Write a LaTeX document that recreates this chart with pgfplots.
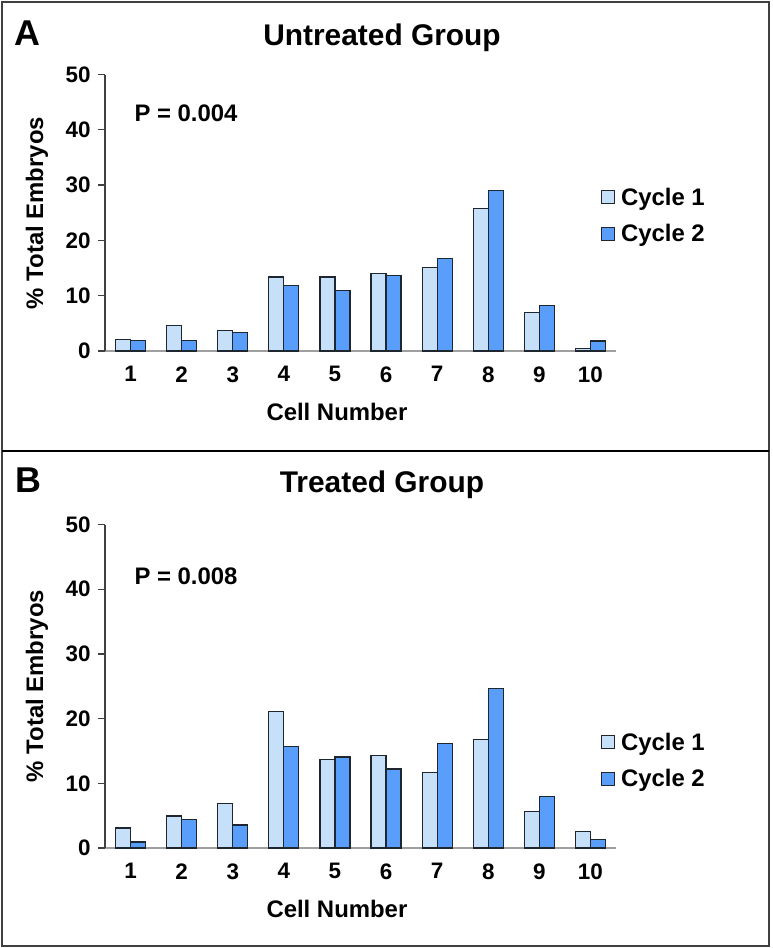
\documentclass[border=0pt]{standalone}
\usepackage{pgfplots}
\pgfplotsset{compat=1.18}
\usepackage{fontspec}
\setmainfont{Liberation Sans}
\definecolor{cyc1}{RGB}{197,224,248}
\definecolor{cyc2}{RGB}{88,158,250}
\definecolor{edge}{RGB}{30,38,48}
\pgfplotsset{
 panel/.style={
  scale only axis, width=511bp, anchor=south west,
  xmin=0.5, xmax=10.5, ymin=0, ymax=50,
  xtick={1,...,10}, ytick={0,10,...,50},
  axis x line=bottom, axis y line=left,
  x axis line style={-, draw=gray!75, line width=1.3bp},
  y axis line style={-, draw=black!75, line width=1.3bp},
  xtick style={draw=none},
  ytick style={draw=black!75, line width=1.3bp},
  tick align=outside, major tick length=7bp,
  ybar=0pt, bar width=15bp,
  ticklabel style={font=\fontsize{22.5}{26}\selectfont\bfseries},
  /pgf/number format/assume math mode=true,
  xticklabel style={yshift=-5bp},
  yticklabel style={xshift=-4bp},
  legend style={draw=none, fill=none, anchor=west,
    font=\fontsize{24}{28}\selectfont\bfseries, row sep=14bp,
    inner sep=0pt, nodes={inner sep=2bp}},
  legend cell align=left,
  legend image code/.code={\draw[##1] (0bp,-6.5bp) rectangle (13bp,6.5bp);
    \path (17bp,0bp);},
 }
}
\begin{document}
\begin{tikzpicture}
\useasboundingbox (0,0) rectangle (773bp,-948bp);
\draw[line width=2bp, draw=black!75] (1.7bp,-1.7bp) rectangle (769.3bp,-946bp);
\draw[line width=2bp, draw=black] (1.7bp,-451bp) -- (769.3bp,-451bp);
% Panel A
\node[anchor=base west, font=\fontsize{36}{40}\selectfont\bfseries] at (11bp,-45bp) {A};
\node[anchor=base, font=\fontsize{30}{36}\selectfont\bfseries] at (382bp,-45bp) {Untreated Group};
\begin{axis}[panel, at={(105bp,-351bp)}, height=276.5bp,
  legend style={at={(0.97,0.49)}}]
\addplot[fill=cyc1, draw=edge, line width=1.2bp] coordinates {
(1,2.05) (2,4.6) (3,3.7) (4,13.4) (5,13.4) (6,14.0) (7,15.1) (8,25.7) (9,7.0) (10,0.4)};
\addplot[fill=cyc2, draw=edge, line width=1.2bp] coordinates {
(1,1.87) (2,1.9) (3,3.4) (4,11.9) (5,11.0) (6,13.7) (7,16.7) (8,29.0) (9,8.25) (10,1.8)};
\legend{Cycle 1, Cycle 2}
\end{axis}
\node[anchor=base west, font=\fontsize{24}{28}\selectfont\bfseries] at (131bp,-121bp) {P = 0.004};
\node[anchor=base, rotate=90, font=\fontsize{24}{28}\selectfont\bfseries] at (43bp,-213bp) {\% Total Embryos};
\node[anchor=base west, font=\fontsize{24}{28}\selectfont\bfseries] at (263bp,-420bp) {Cell Number};
% Panel B
\node[anchor=base west, font=\fontsize{36}{40}\selectfont\bfseries] at (12bp,-492bp) {B};
\node[anchor=base, font=\fontsize{30}{36}\selectfont\bfseries] at (382bp,-492bp) {Treated Group};
\begin{axis}[panel, at={(105bp,-848bp)}, height=323.5bp,
  legend style={at={(0.97,0.27)}}]
\addplot[fill=cyc1, draw=edge, line width=1.2bp] coordinates {
(1,3.1) (2,4.95) (3,6.86) (4,21.1) (5,13.66) (6,14.3) (7,11.7) (8,16.8) (9,5.6) (10,2.5)};
\addplot[fill=cyc2, draw=edge, line width=1.2bp] coordinates {
(1,0.93) (2,4.4) (3,3.56) (4,15.7) (5,14.07) (6,12.2) (7,16.1) (8,24.7) (9,7.9) (10,1.3)};
\legend{Cycle 1, Cycle 2}
\end{axis}
\node[anchor=base west, font=\fontsize{24}{28}\selectfont\bfseries] at (131bp,-584bp) {P = 0.008};
\node[anchor=base, rotate=90, font=\fontsize{24}{28}\selectfont\bfseries] at (43bp,-686bp) {\% Total Embryos};
\node[anchor=base west, font=\fontsize{24}{28}\selectfont\bfseries] at (263bp,-917bp) {Cell Number};
\end{tikzpicture}
\end{document}
